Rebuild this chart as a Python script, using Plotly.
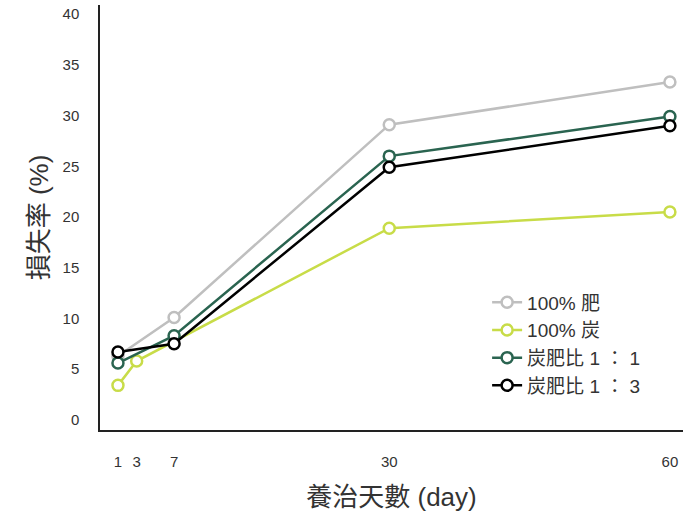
import plotly.graph_objects as go

days_fert = [1, 7, 30, 60]
loss_fert = [6.3, 10.1, 29.1, 33.3]

days_char = [1, 3, 30, 60]
loss_char = [3.4, 5.8, 18.9, 20.5]

days_11 = [1, 7, 30, 60]
loss_11 = [5.6, 8.3, 26.0, 29.9]

days_13 = [1, 7, 30, 60]
loss_13 = [6.7, 7.5, 24.9, 29.0]

x_ticks = [1, 3, 7, 30, 60]
y_ticks = [0, 5, 10, 15, 20, 25, 30, 35, 40]

series = [
    ("100% 肥", days_fert, loss_fert, "#bfbfbf"),
    ("100% 炭", days_char, loss_char, "#c8dc48"),
    ("炭肥比 1 ： 1", days_11, loss_11, "#2a6450"),
    ("炭肥比 1 ： 3", days_13, loss_13, "#000000"),
]

cjk = "Liberation Sans, Noto Sans CJK TC, sans-serif"

fig = go.Figure()
for name, xs, ys, col in series:
    fig.add_trace(go.Scatter(
        x=xs, y=ys, name=name, mode="lines+markers",
        line=dict(color=col, width=2.5),
        marker=dict(symbol="circle", size=11, color="white",
                    line=dict(color=col, width=2.5)),
    ))

fig.update_layout(
    width=683, height=517,
    margin=dict(l=100, r=0, t=5, b=87),
    paper_bgcolor="white", plot_bgcolor="white",
    font=dict(family=cjk, color="#333333"),
    showlegend=True,
    legend=dict(x=0.664, y=0.345, xanchor="left", yanchor="top",
                font=dict(size=19, color="#333333"),
                bgcolor="rgba(0,0,0,0)", tracegroupgap=0),
    xaxis=dict(range=[-0.92, 61.4], tickvals=x_ticks, showgrid=False, automargin=False,
               zeroline=False, showline=True, linecolor="#222222", linewidth=1.5,
               ticks="", ticklabelstandoff=17, tickfont=dict(size=15, color="#333333"),
               title=dict(text="養治天數 (day)", font=dict(size=26, color="#333333"),
                          standoff=19)),
    yaxis=dict(range=[-1, 40.9], tickvals=y_ticks, showgrid=False, automargin=False,
               zeroline=False, showline=True, linecolor="#222222", linewidth=1.5,
               ticks="", ticklabelstandoff=16, tickfont=dict(size=15, color="#333333"),
               title=dict(text="損失率 (%)", font=dict(size=26, color="#333333"),
                          standoff=6)),
)

fig.write_html("out.html", config={"displayModeBar": False},
               post_script="document.body.style.margin='0px';")
